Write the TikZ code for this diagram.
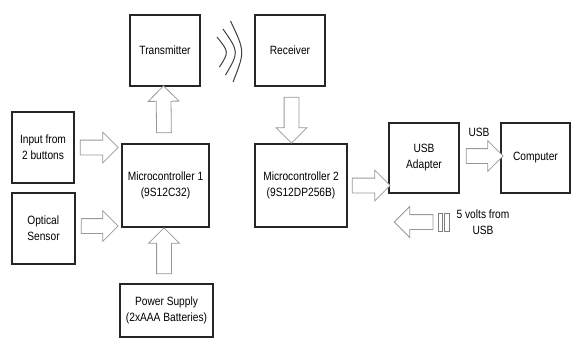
\documentclass[tikz,border=0pt]{standalone}
\usepackage{fontspec}
\setmainfont{Liberation Sans}[FakeStretch=0.85]
\usetikzlibrary{shapes.arrows, calc, positioning}

\begin{document}
\begin{tikzpicture}[
  x=1pt, y=-1pt,
  every node/.style={font=\fontsize{12}{16}\selectfont, align=center},
  box/.style={draw=black!85, line width=1.1pt, inner sep=2pt},
  blk/.style={single arrow, draw=black!40, fill=white, line width=0.8pt,
              inner xsep=0pt, inner ysep=7pt, minimum width=0pt,
              single arrow head extend=8pt, single arrow tip angle=90},
  fat/.style={to path={
    let \p1=($(\tikztotarget)-(\tikztostart)$),
        \n1={veclen(\x1,\y1)}, \n2={atan2(\y1,\x1)} in
    ($(\tikztostart)!0.5!(\tikztotarget)$)
      node[blk, minimum height=\n1, rotate=\n2] {} (\tikztotarget)}},
  bar/.style={draw=black!50, fill=white, line width=0.8pt, inner sep=0pt,
              minimum height=18},
  wave/.style={draw=black!75, line width=1pt},
]
  \useasboundingbox[fill=white] (0,0) rectangle (579,356);

  % blocks
  \node[box, minimum width=70, minimum height=71] (trans) at (165,50.5) {Transmitter};
  \node[box, minimum width=70, minimum height=71] (recv) at (290,50.5) {Receiver};
  \node[box, minimum width=62, minimum height=71] (inp) at (43,147.5) {Input from\\2 buttons};
  \node[box, minimum width=63, minimum height=71, align=left] (opt) at (43.5,228.5) {Optical\\Sensor};
  \node[box, minimum width=87, minimum height=83] (mc1) at (165.5,185.5) {Microcontroller 1\\(9S12C32)};
  \node[box, minimum width=92, minimum height=83] (mc2) at (301,185.5) {Microcontroller 2\\(9S12DP256B)};
  \node[box, minimum width=93, minimum height=53] (pwr) at (166.5,310.5) {Power Supply\\(2xAAA Batteries)};
  \node[box, minimum width=70, minimum height=70] (usb) at (424,158) {USB\\Adapter};
  \node[box, minimum width=69, minimum height=70] (comp) at (535.5,158) {Computer};

  % plug and free end of the 5 V arrow
  \node[bar, minimum width=4] (plugA) at (440,222) {};
  \node[bar, minimum width=5] (plugB) at (446.5,222) {};
  \coordinate (vin) at (398,222);

  % block arrows
  \path ($(inp.east)+(2,0)$) to[fat] ($(mc1.west |- inp.east)+(-7,0)$);
  \path ($(opt.east)+(2,-2.5)$) to[fat] ($(mc1.west |- opt.east)+(-7,-2.5)$);
  \path ($(mc1.north)+(-1.5,-7)$) to[fat] ($(trans.south)+(-1.5,3)$);
  \path ($(pwr.north)+(-2.5,-6)$) to[fat] ($(mc1.south -| pwr.north)+(-2.5,4)$);
  \path ($(recv.south)+(1.5,7)$) to[fat] ($(mc2.north -| recv.south)+(1.5,-4)$);
  \path ($(mc2.east)+(1,0)$) to[fat] ($(usb.west |- mc2.east)+(-2,0)$);
  \path ($(usb.east)+(3,-2)$) to[fat] ($(comp.west)+(-1,-2)$);
  \path ($(plugA.west)+(-1,0)$) to[fat] (vin);

  % labels
  \node (usblbl) at (479,132) {USB};
  \node (vlbl) at (483,222) {5 volts from\\USB};

  % radio waves
  \draw[wave] (217,37) .. controls (229,52) .. (219.5,67);
  \draw[wave] (223,29) .. controls (239,52) .. (225.5,75);
  \draw[wave] (230.5,21) .. controls (245,51.5) .. (233,82);
\end{tikzpicture}
\end{document}
